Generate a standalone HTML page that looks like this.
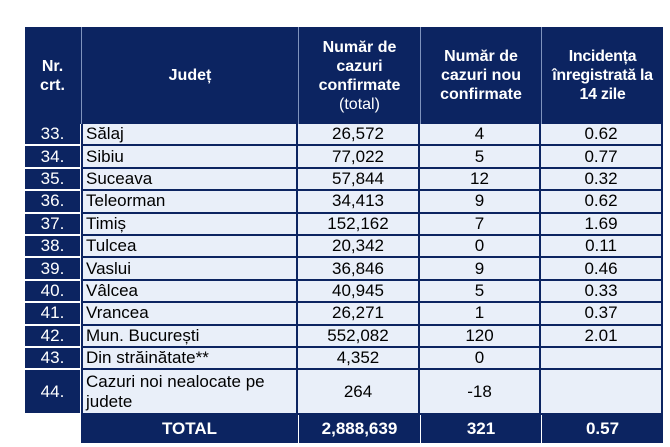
<!DOCTYPE html>
<html><head><meta charset="utf-8"><style>
body{margin:0;width:670px;height:447px;background:#fff;position:relative;overflow:hidden;font-family:"Liberation Sans",sans-serif}
.a{position:absolute;box-sizing:border-box}
.hd{background:#0c2461;color:#fff;font-weight:bold;font-size:16px;line-height:19px;display:flex;align-items:center;justify-content:center;text-align:center}
.nr{background:#0c2461;color:#fff;font-size:17px;display:flex;align-items:center;justify-content:center;border-bottom:2px solid #fff}
.c{background:#e9eff9;color:#000;font-size:17px;display:flex;align-items:center;justify-content:center;border-right:2px solid #0c2461;border-bottom:2px solid #0c2461;white-space:nowrap}
.l{justify-content:flex-start;padding-left:3px}
.t{background:#0c2461;color:#fff;font-weight:bold;font-size:17px;display:flex;align-items:center;justify-content:center}
</style></head><body>
<div class="a hd" style="left:25px;top:27px;width:638px;height:97px"></div>
<div class="a hd" style="left:25px;top:27px;width:55px;height:97px"><div>Nr.<br>crt.</div></div>
<div class="a hd" style="left:81px;top:27px;width:217px;height:97px;border-left:1px solid #7f93bd"><div>Județ</div></div>
<div class="a hd" style="left:298px;top:27px;width:122px;height:97px;border-left:1px solid #7f93bd"><div>Număr de<br>cazuri<br>confirmate<br><span style="font-weight:normal">(total)</span></div></div>
<div class="a hd" style="left:420px;top:27px;width:121px;height:97px;border-left:1px solid #7f93bd"><div>Număr de<br>cazuri nou<br>confirmate</div></div>
<div class="a hd" style="left:541px;top:27px;width:122px;height:97px;border-left:1px solid #7f93bd;letter-spacing:-0.3px"><div>Incidența<br>înregistrată la<br>14 zile</div></div>
<div id="rows"></div>
<script>
var d=[["33.","Sălaj","26,572","4","0.62"],["34.","Sibiu","77,022","5","0.77"],["35.","Suceava","57,844","12","0.32"],["36.","Teleorman","34,413","9","0.62"],["37.","Timiș","152,162","7","1.69"],["38.","Tulcea","20,342","0","0.11"],["39.","Vaslui","36,846","9","0.46"],["40.","Vâlcea","40,945","5","0.33"],["41.","Vrancea","26,271","1","0.37"],["42.","Mun. București","552,082","120","2.01"],["43.","Din străinătate**","4,352","0",""],["44.","Cazuri noi nealocate pe<br>judete","264","-18",""]];
var h="",y=124;
d.forEach(function(r,i){var ht=i==11?45:22.4;
h+='<div class="a nr" style="left:25px;top:'+y+'px;width:55px;height:'+ht+'px">'+r[0]+'</div>';
h+='<div class="a c l" style="left:81px;top:'+y+'px;width:217px;height:'+ht+'px;border-left:2px solid #0c2461;'+(i==11?'white-space:normal;line-height:20px':'')+'"><div>'+r[1]+'</div></div>';
h+='<div class="a c" style="left:298px;top:'+y+'px;width:122px;height:'+ht+'px">'+r[2]+'</div>';
h+='<div class="a c" style="left:420px;top:'+y+'px;width:121px;height:'+ht+'px">'+r[3]+'</div>';
h+='<div class="a c" style="left:541px;top:'+y+'px;width:122px;height:'+ht+'px">'+r[4]+'</div>';
y+=ht;});
h+='<div class="a t" style="left:81px;top:415px;width:582px;height:28px"></div>';
h+='<div class="a t" style="left:81px;top:415px;width:217px;height:28px">TOTAL</div>';
h+='<div class="a t" style="left:298px;top:415px;width:122px;height:28px;border-left:1px solid #fff">2,888,639</div>';
h+='<div class="a t" style="left:420px;top:415px;width:121px;height:28px;border-left:1px solid #fff">321</div>';
h+='<div class="a t" style="left:541px;top:415px;width:122px;height:28px;border-left:1px solid #fff">0.57</div>';
document.getElementById("rows").innerHTML=h;
</script>
</body></html>
